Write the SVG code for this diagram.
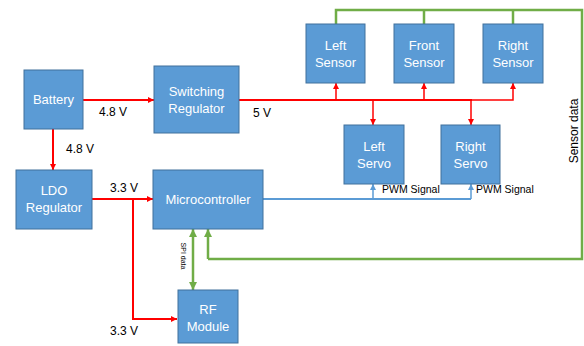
<svg xmlns="http://www.w3.org/2000/svg" width="584" height="346" viewBox="0 0 584 346">
<defs>
<style>
.box{fill:#5B9BD5;stroke:#41719C;stroke-width:1}
.bt{fill:#fff;font-family:"Liberation Sans",Arial,sans-serif;font-size:13px;text-anchor:middle}
.lbl{fill:#000;font-family:"Liberation Sans",Arial,sans-serif;font-size:12px}
.sm{fill:#000;font-family:"Liberation Sans",Arial,sans-serif;font-size:10.5px}
.red{stroke:#FF0000;stroke-width:2;fill:none}
.grn{stroke:#70AD47;stroke-width:2.5;fill:none}
.blu{stroke:#5B9BD5;stroke-width:2;fill:none}
</style>
<marker id="ar" markerUnits="userSpaceOnUse" markerWidth="8" markerHeight="8" refX="6" refY="4" orient="auto"><path d="M0,1 L6,4 L0,7 Z" fill="#FF0000"/></marker>
<marker id="ab" markerUnits="userSpaceOnUse" markerWidth="8" markerHeight="8" refX="6" refY="4" orient="auto"><path d="M0,1 L6,4 L0,7 Z" fill="#5B9BD5"/></marker>
<marker id="ag" markerUnits="userSpaceOnUse" markerWidth="10" markerHeight="10" refX="8" refY="5" orient="auto"><path d="M0,1 L8,5 L0,9 Z" fill="#70AD47"/></marker>
<marker id="ags" markerUnits="userSpaceOnUse" markerWidth="10" markerHeight="10" refX="0" refY="5" orient="auto"><path d="M8,1 L0,5 L8,9 Z" fill="#70AD47"/></marker>
</defs>
<g id="connectors">
<line class="red" x1="83" y1="100" x2="154" y2="100" marker-end="url(#ar)"/>
<line class="red" x1="53" y1="129" x2="53" y2="170" marker-end="url(#ar)"/>
<line class="red" x1="92" y1="199" x2="153" y2="199" marker-end="url(#ar)"/>
<polyline class="red" points="133,199 133,319 177,319" marker-end="url(#ar)"/>
<line class="red" x1="239" y1="100" x2="472" y2="100"/>
<polyline class="red" style="stroke-width:1.5" points="471,100 513,100 513,83" marker-end="url(#ar)"/>
<line class="red" style="stroke-width:1.5" x1="336" y1="100" x2="336" y2="83" marker-end="url(#ar)"/>
<line class="red" style="stroke-width:1.5" x1="424" y1="100" x2="424" y2="83" marker-end="url(#ar)"/>
<line class="red" style="stroke-width:1.5" x1="373" y1="100" x2="373" y2="125" marker-end="url(#ar)"/>
<line class="red" style="stroke-width:1.5" x1="471" y1="100" x2="471" y2="125" marker-end="url(#ar)"/>
<line class="blu" x1="263" y1="199" x2="471" y2="199"/>
<line class="blu" style="stroke-width:1.5" x1="373" y1="199" x2="373" y2="184" marker-end="url(#ab)"/>
<line class="blu" style="stroke-width:1.5" x1="471" y1="199" x2="471" y2="184" marker-end="url(#ab)"/>
<polyline class="grn" points="208,259 582,259 582,10 336,10 336,24"/>
<line class="grn" x1="208" y1="259" x2="208" y2="229" marker-end="url(#ag)"/>
<line class="grn" x1="424" y1="10" x2="424" y2="24"/>
<line class="grn" x1="513" y1="10" x2="513" y2="24"/>
<line class="grn" x1="193" y1="229" x2="193" y2="290" marker-start="url(#ags)" marker-end="url(#ag)"/>
<text class="lbl" x="99" y="116">4.8 V</text>
<text class="lbl" x="66" y="153">4.8 V</text>
<text class="lbl" x="253" y="117">5 V</text>
<text class="lbl" x="110" y="192">3.3 V</text>
<text class="lbl" x="110" y="335">3.3 V</text>
<text class="sm" x="382" y="193">PWM Signal</text>
<text class="sm" x="476" y="193">PWM Signal</text>
<text class="lbl" transform="translate(578,131) rotate(-90)" text-anchor="middle">Sensor data</text>
<text class="sm" style="font-size:7px" transform="translate(181,256) rotate(90)" text-anchor="middle">SPI data</text>
</g>
<g id="battery"><rect class="box" x="24" y="70" width="59" height="59"/><text class="bt" x="53.5" y="104">Battery</text></g>
<g id="switching"><rect class="box" x="154" y="66" width="85" height="67"/><text class="bt" x="196.5" y="96">Switching</text><text class="bt" x="196.5" y="113">Regulator</text></g>
<g id="ldo"><rect class="box" x="16" y="170" width="76" height="59"/><text class="bt" x="54" y="195">LDO</text><text class="bt" x="54" y="212">Regulator</text></g>
<g id="micro"><rect class="box" x="153" y="170" width="110" height="59"/><text class="bt" x="208" y="204">Microcontroller</text></g>
<g id="rf"><rect class="box" x="178" y="290" width="60" height="53"/><text class="bt" x="208" y="314">RF</text><text class="bt" x="208" y="331">Module</text></g>
<g id="leftsensor"><rect class="box" x="306" y="24" width="59" height="59"/><text class="bt" x="335.5" y="50">Left</text><text class="bt" x="335.5" y="67">Sensor</text></g>
<g id="frontsensor"><rect class="box" x="394" y="24" width="60" height="59"/><text class="bt" x="424" y="50">Front</text><text class="bt" x="424" y="67">Sensor</text></g>
<g id="rightsensor"><rect class="box" x="483" y="24" width="60" height="59"/><text class="bt" x="513" y="50">Right</text><text class="bt" x="513" y="67">Sensor</text></g>
<g id="leftservo"><rect class="box" x="344" y="125" width="60" height="59"/><text class="bt" x="374" y="151">Left</text><text class="bt" x="374" y="168">Servo</text></g>
<g id="rightservo"><rect class="box" x="441" y="125" width="59" height="59"/><text class="bt" x="470.5" y="151">Right</text><text class="bt" x="470.5" y="168">Servo</text></g>
</svg>
